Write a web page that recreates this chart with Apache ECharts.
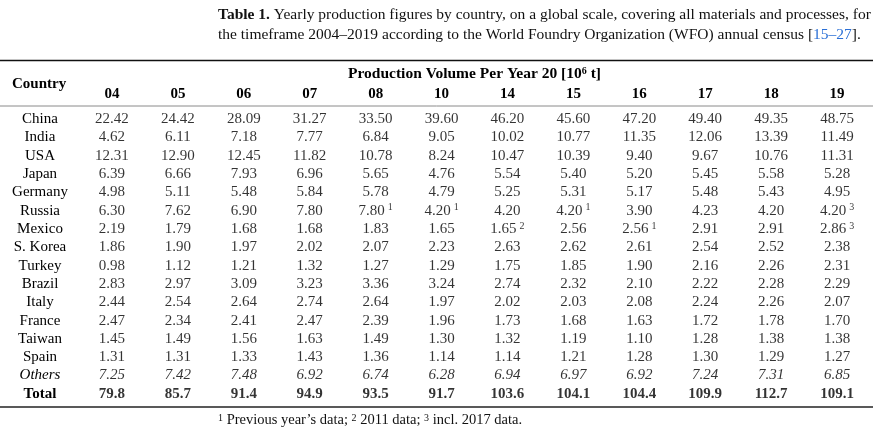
<!DOCTYPE html>
<html>
<head>
<meta charset="utf-8">
<script src="https://cdn.jsdelivr.net/npm/echarts@6/dist/echarts.min.js"></script>
<style>
html,body{margin:0;padding:0;background:#fff;}
#J_Main{width:895px;height:438px;}
</style>
</head>
<body>
<div id="J_Main"></div>
<script>
// column headers (year 20xx) and row names
var years=['04','05','06','07','08','10','14','15','16','17','18','19'];
var countries=['China','India','USA','Japan','Germany','Russia','Mexico','S. Korea','Turkey','Brazil','Italy','France','Taiwan','Spain','Others','Total'];

// production volume, 10^6 t
var china=[22.42,24.42,28.09,31.27,33.50,39.60,46.20,45.60,47.20,49.40,49.35,48.75];
var india=[4.62,6.11,7.18,7.77,6.84,9.05,10.02,10.77,11.35,12.06,13.39,11.49];
var usa=[12.31,12.90,12.45,11.82,10.78,8.24,10.47,10.39,9.40,9.67,10.76,11.31];
var japan=[6.39,6.66,7.93,6.96,5.65,4.76,5.54,5.40,5.20,5.45,5.58,5.28];
var germany=[4.98,5.11,5.48,5.84,5.78,4.79,5.25,5.31,5.17,5.48,5.43,4.95];
var russia=[6.30,7.62,6.90,7.80,7.80,4.20,4.20,4.20,3.90,4.23,4.20,4.20];
var mexico=[2.19,1.79,1.68,1.68,1.83,1.65,1.65,2.56,2.56,2.91,2.91,2.86];
var korea=[1.86,1.90,1.97,2.02,2.07,2.23,2.63,2.62,2.61,2.54,2.52,2.38];
var turkey=[0.98,1.12,1.21,1.32,1.27,1.29,1.75,1.85,1.90,2.16,2.26,2.31];
var brazil=[2.83,2.97,3.09,3.23,3.36,3.24,2.74,2.32,2.10,2.22,2.28,2.29];
var italy=[2.44,2.54,2.64,2.74,2.64,1.97,2.02,2.03,2.08,2.24,2.26,2.07];
var france=[2.47,2.34,2.41,2.47,2.39,1.96,1.73,1.68,1.63,1.72,1.78,1.70];
var taiwan=[1.45,1.49,1.56,1.63,1.49,1.30,1.32,1.19,1.10,1.28,1.38,1.38];
var spain=[1.31,1.31,1.33,1.43,1.36,1.14,1.14,1.21,1.28,1.30,1.29,1.27];
var others=[7.25,7.42,7.48,6.92,6.74,6.28,6.94,6.97,6.92,7.24,7.31,6.85];
var total=[79.8,85.7,91.4,94.9,93.5,91.7,103.6,104.1,104.4,109.9,112.7,109.1];

// footnote marks: [row, column, mark]
var marks=[['Russia','08',1],['Russia','10',1],['Russia','15',1],['Russia','19',3],
           ['Mexico','14',2],['Mexico','16',1],['Mexico','19',3]];

var rows=[china,india,usa,japan,germany,russia,mexico,korea,turkey,brazil,italy,france,taiwan,spain,others,total];

var FONT='Liberation Serif';
var cells=[];
rows.forEach(function(row,r){
    row.forEach(function(v,c){
        var mark='';
        marks.forEach(function(m){ if(m[0]==countries[r]&&m[1]==years[c]) mark=m[2]; });
        cells.push({value:[c,r,v],mark:mark});
    });
});

var textRich={
    n:{fontFamily:FONT,fontSize:15,color:'#000',lineHeight:16,textBorderWidth:0},
    i:{fontFamily:FONT,fontSize:15,color:'#000',fontStyle:'italic',lineHeight:16,textBorderWidth:0},
    b:{fontFamily:FONT,fontSize:15,color:'#000',fontWeight:'bold',lineHeight:16,textBorderWidth:0},
    s:{fontFamily:FONT,fontSize:10,color:'#000',verticalAlign:'top',lineHeight:16,padding:[0,0,0,3],textBorderWidth:0}
};

var myChart=echarts.init(document.getElementById('J_Main'),null,{renderer:'canvas'});
var option={
    backgroundColor:'#fff',
    animation:false,
    title:[{
        left:218,top:5,
        text:'{tb|Table 1.} Yearly production figures by country, on a global scale, covering all materials and processes, for\nthe timeframe 2004–2019 according to the World Foundry Organization (WFO) annual census [{lk|15–27}].',
        textStyle:{
            fontFamily:FONT,fontSize:15.5,fontWeight:'normal',color:'#111',lineHeight:20,
            rich:{
                tb:{fontFamily:FONT,fontSize:15.5,fontWeight:'bold',color:'#111',lineHeight:20},
                lk:{fontFamily:FONT,fontSize:15.5,color:'#2a6fd6',lineHeight:20}
            }
        },
        padding:0
    },{
        left:12,top:77,padding:0,
        text:'Country',
        textStyle:{fontFamily:FONT,fontSize:15,fontWeight:'bold',color:'#000'}
    },{
        left:218,top:413,padding:0,
        text:'{s|1} Previous year’s data; {s|2} 2011 data; {s|3} incl. 2017 data.',
        textStyle:{
            fontFamily:FONT,fontSize:14.5,fontWeight:'normal',color:'#111',lineHeight:15,
            rich:{s:{fontFamily:FONT,fontSize:10,color:'#111',verticalAlign:'top',lineHeight:15}}
        }
    }],
    grid:{left:79,right:25,top:110,bottom:35},
    xAxis:{
        type:'category',position:'top',data:years,
        axisLine:{show:false},axisTick:{show:false},splitLine:{show:false},
        axisLabel:{fontFamily:FONT,fontSize:15,fontWeight:'bold',color:'#000',margin:8,interval:0},
        name:'Production Volume Per Year 20 [10{sup|6} t]',
        nameLocation:'middle',nameGap:28,
        nameTextStyle:{
            fontFamily:FONT,fontSize:15.5,fontWeight:'bold',color:'#000',
            rich:{sup:{fontFamily:FONT,fontSize:10,fontWeight:'bold',color:'#000',verticalAlign:'top'}}
        }
    },
    yAxis:{
        type:'category',inverse:true,data:countries,
        axisLine:{show:false},axisTick:{show:false},splitLine:{show:false},
        axisLabel:{
            align:'center',margin:39,interval:0,color:'#000',
            formatter:function(v){
                if(v=='Others') return '{i|'+v+'}';
                if(v=='Total') return '{b|'+v+'}';
                return '{n|'+v+'}';
            },
            rich:textRich
        }
    },
    graphic:[
        {type:'line',shape:{x1:0,y1:60.5,x2:873,y2:60.5},style:{stroke:'#111',lineWidth:1.4}},
        {type:'line',shape:{x1:0,y1:106,x2:873,y2:106},style:{stroke:'#8a8a8a',lineWidth:1}},
        {type:'line',shape:{x1:0,y1:407,x2:873,y2:407},style:{stroke:'#222',lineWidth:1.6}}
    ],
    series:[{
        type:'scatter',
        symbolSize:1,
        itemStyle:{color:'rgba(0,0,0,0)'},
        data:cells,
        label:{
            show:true,position:'inside',color:'#000',textBorderWidth:0,
            formatter:function(p){
                var r=p.data.value[1],v=p.data.value[2];
                var name=countries[r],key='n',txt=v.toFixed(2);
                if(name=='Others') key='i';
                if(name=='Total'){ key='b'; txt=v.toFixed(1); }
                var s='{'+key+'|'+txt+'}';
                if(p.data.mark) s+='{s|'+p.data.mark+'}';
                return s;
            },
            rich:textRich
        }
    }]
};
myChart.setOption(option);
</script>
</body>
</html>
